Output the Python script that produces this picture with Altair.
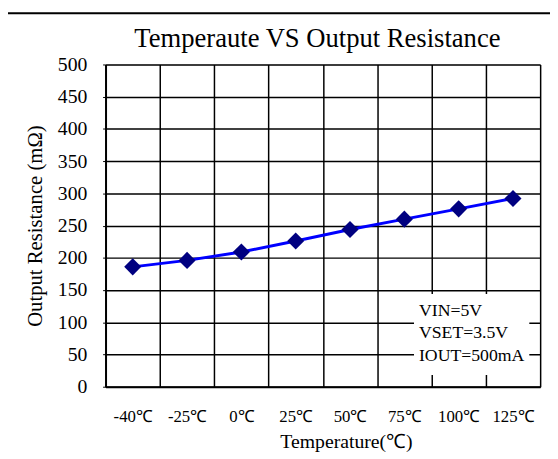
import altair as alt
import pandas as pd

temps = ["-40℃", "-25℃", "0℃", "25℃", "50℃", "75℃", "100℃", "125℃"]
resistance = [186, 196, 209, 226, 244, 260, 276, 292]
notes = ["VIN=5V", "VSET=3.5V", "IOUT=500mA"]
y_ticks = list(range(0, 501, 50))
title_text = "Temperaute VS Output Resistance"

df = pd.DataFrame({"Temperature": temps, "Resistance": resistance})

FONT = "Liberation Serif"
W, H = 441, 327

x_enc = alt.X(
    "Temperature:N",
    sort=temps,
    scale=alt.Scale(paddingInner=0, paddingOuter=0),
    axis=alt.Axis(
        title="Temperature(℃)",
        tickBand="extent",
        grid=True,
        gridColor="black",
        gridWidth=1.5,
        gridOpacity=1,
        ticks=False,
        labelAngle=0,
        labelPadding=22,
        labelFont=FONT,
        labelFontSize=17,
        labelColor="black",
        labelFontWeight="normal",
        titleFont=FONT,
        titleFontSize=20,
        titleFontWeight="normal",
        titleColor="black",
        titlePadding=8,
        titleX=244,
        domainColor="black",
        domainWidth=2,
    ),
)
y_enc = alt.Y(
    "Resistance:Q",
    scale=alt.Scale(domain=[0, 500], nice=False),
    axis=alt.Axis(
        title="Output Resistance (mΩ)",
        values=y_ticks,
        labelOverlap=False,
        grid=True,
        gridColor="black",
        gridWidth=1.5,
        gridOpacity=1,
        ticks=True,
        tickSize=3,
        tickColor="black",
        labelPadding=16,
        labelFont=FONT,
        labelFontSize=20,
        labelFontWeight="normal",
        labelColor="black",
        titleFont=FONT,
        titleFontSize=21,
        titleFontWeight="normal",
        titleColor="black",
        titlePadding=12,
        domainColor="black",
        domainWidth=2,
    ),
)

base = alt.Chart(df).encode(x=x_enc, y=y_enc)
line = base.mark_line(color="#0000FF", strokeWidth=3)
pts = base.mark_point(shape="diamond", filled=True, size=300, color="#000080", opacity=1)

note_df = pd.DataFrame({"t": ["\n".join(notes)], "title": [title_text]})
box = alt.Chart(note_df).mark_rect(fill="white", stroke=None).encode(
    x=alt.value(313), x2=alt.value(430), y=alt.value(233), y2=alt.value(315)
)
note_text = alt.Chart(note_df).mark_text(
    font=FONT, fontSize=18, align="left", baseline="middle", lineBreak="\n", lineHeight=23, color="black"
).encode(x=alt.value(318), y=alt.value(250), text="t:N")

title_mark = alt.Chart(note_df).mark_text(
    font=FONT, fontSize=27, align="center", baseline="alphabetic", color="black"
).encode(x=alt.value(215), y=alt.value(-18), text="title:N")

frame = alt.Chart(note_df).mark_rect(fill=None, stroke="black", strokeWidth=2).encode(
    x=alt.value(-100), x2=alt.value(470), y=alt.value(-52), y2=alt.value(420)
)

chart = (
    alt.layer(line, pts, box, note_text, title_mark, frame)
    .properties(
        width=W,
        height=H,
        autosize=alt.AutoSizeParams(type="none"),
        padding={"left": 99, "top": 54, "right": 10, "bottom": 68},
    )
    .configure_view(stroke="black", strokeWidth=2)
    .configure(background="white")
)

chart.save("out.html", embed_options={"renderer": "svg", "actions": False})
